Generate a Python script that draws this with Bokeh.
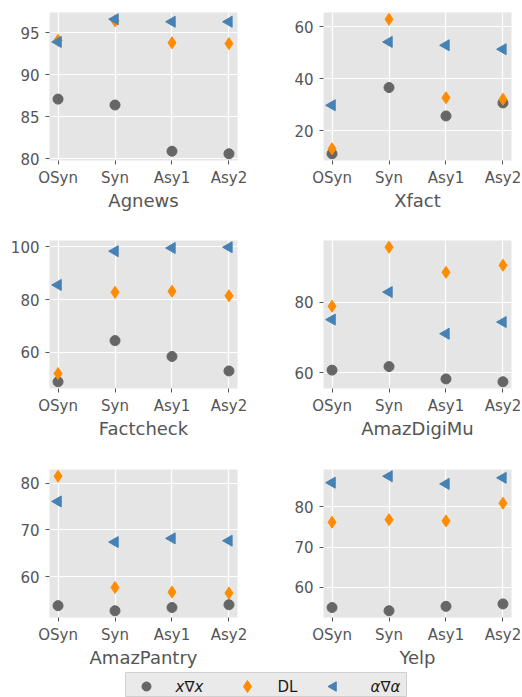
import math
from bokeh.plotting import figure
from bokeh.layouts import column, row
from bokeh.models import Range1d, FixedTicker, Label
from bokeh.embed import file_html
from bokeh.resources import INLINE

# ---------------- data ----------------
categories = ["OSyn", "Syn", "Asy1", "Asy2"]
datasets = ["Agnews", "Xfact", "Factcheck", "AmazDigiMu", "AmazPantry", "Yelp"]
series_labels = ["x\u2207x", "DL", "\u03b1\u2207\u03b1"]

xgx = {
    "Agnews":     [87.1, 86.4, 80.9, 80.6],
    "Xfact":      [11.2, 36.6, 25.7, 30.7],
    "Factcheck":  [48.9, 64.5, 58.5, 53.0],
    "AmazDigiMu": [60.8, 61.8, 58.3, 57.5],
    "AmazPantry": [53.8, 52.7, 53.4, 54.0],
    "Yelp":       [55.0, 54.2, 55.3, 55.9],
}
dl = {
    "Agnews":     [94.1, 96.4, 93.8, 93.7],
    "Xfact":      [13.1, 62.8, 32.7, 32.1],
    "Factcheck":  [52.0, 82.8, 83.2, 81.5],
    "AmazDigiMu": [78.9, 95.6, 88.5, 90.5],
    "AmazPantry": [81.5, 57.7, 56.7, 56.5],
    "Yelp":       [76.2, 76.8, 76.5, 80.9],
}
aga = {
    "Agnews":     [93.9, 96.6, 96.3, 96.3],
    "Xfact":      [29.8, 54.1, 52.8, 51.3],
    "Factcheck":  [85.6, 98.4, 99.6, 99.9],
    "AmazDigiMu": [75.1, 82.9, 71.1, 74.4],
    "AmazPantry": [76.1, 67.4, 68.2, 67.7],
    "Yelp":       [86.0, 87.6, 85.7, 87.2],
}
yticks = {
    "Agnews":     [80, 85, 90, 95],
    "Xfact":      [20, 40, 60],
    "Factcheck":  [60, 80, 100],
    "AmazDigiMu": [60, 80],
    "AmazPantry": [60, 70, 80],
    "Yelp":       [60, 70, 80],
}

# ---------------- style ----------------
FONT = "DejaVu Sans"
BG = "#E5E5E5"
TXT = "#555555"
C_CIRC = "#666666"
C_DIAM = "#FF8C00"
C_TRI = "#4682B4"

col_w = [280, 242]
col_mb = [(49, 43), (43, 11)]
row_h = [228, 229, 215]
TOP = 12
FRAME_H = 148


def make_panel(name, ci, ri):
    xs = list(range(len(categories)))
    allv = xgx[name] + dl[name] + aga[name]
    lo, hi = min(allv), max(allv)
    pad = 0.05 * (hi - lo)
    n = len(categories)
    p = figure(width=col_w[ci], height=row_h[ri], output_backend="svg",
               toolbar_location=None,
               x_range=Range1d(-0.05 * (n - 1), (n - 1) * 1.05),
               y_range=Range1d(lo - pad, hi + pad))
    p.min_border_left, p.min_border_right = col_mb[ci]
    p.min_border_top = TOP
    p.min_border_bottom = row_h[ri] - TOP - FRAME_H
    p.background_fill_color = BG
    p.border_fill_color = "white"
    p.outline_line_color = None

    p.xaxis.ticker = FixedTicker(ticks=xs)
    p.xaxis.major_label_overrides = {i: c for i, c in enumerate(categories)}
    p.yaxis.ticker = FixedTicker(ticks=yticks[name])
    for ax in (p.xaxis[0], p.yaxis[0]):
        ax.axis_line_color = None
        ax.major_tick_line_color = TXT
        ax.major_tick_in = 0
        ax.major_tick_out = 4
        ax.minor_tick_line_color = None
        ax.major_label_text_font = FONT
        ax.major_label_text_font_size = "15px"
        ax.major_label_text_color = TXT
    p.xaxis.major_label_standoff = 4
    p.yaxis.major_label_standoff = 6
    p.xaxis.axis_label = name
    p.xaxis.axis_label_text_font = FONT
    p.xaxis.axis_label_text_font_size = "18px"
    p.xaxis.axis_label_text_font_style = "normal"
    p.xaxis.axis_label_text_color = TXT
    p.xaxis.axis_label_standoff = 0

    p.grid.grid_line_color = "white"
    p.grid.grid_line_width = 1.2

    p.scatter(xs, xgx[name], marker="circle", size=10,
              fill_color=C_CIRC, line_color=C_CIRC)
    p.scatter(xs, dl[name], marker="diamond", size=12,
              fill_color=C_DIAM, line_color=C_DIAM)
    p.scatter(xs, aga[name], marker="triangle", size=11, angle=math.pi / 2,
              fill_color=C_TRI, line_color=C_TRI)
    return p


panels = [make_panel(name, i % 2, i // 2) for i, name in enumerate(datasets)]

# ---------------- legend strip (pixel-unit ranges) ----------------
LEG_H = 697 - sum(row_h)
LEG_W = 281
leg = figure(width=522, height=LEG_H, output_backend="svg", toolbar_location=None,
             x_axis_type=None, y_axis_type=None,
             x_range=Range1d(0, LEG_W), y_range=Range1d(0, LEG_H))
leg.min_border_left = 125
leg.min_border_right = 522 - 125 - LEG_W
leg.min_border_top = 0
leg.min_border_bottom = 0
leg.background_fill_color = "#EAEAEA"
leg.border_fill_color = "white"
leg.outline_line_color = "#D0D0D0"
leg.grid.visible = False

# legend entry layout: (marker, size, angle, color, symbol x, text x, font style)
leg_entries = [
    ("circle", 9, 0.0, C_CIRC, 21, 50, "italic"),
    ("diamond", 12, 0.0, C_DIAM, 122, 152, "normal"),
    ("triangle", 9.5, math.pi / 2, C_TRI, 208, 245, "italic"),
]
LEG_Y = 11
for (mk, sz, ang, colr, sx, tx, style), lab in zip(leg_entries, series_labels):
    leg.scatter([sx], [LEG_Y], marker=mk, size=sz, angle=ang,
                fill_color=colr, line_color=colr)
    leg.add_layout(Label(x=tx, y=LEG_Y, text=lab, text_font=FONT,
                         text_font_size="15px", text_font_style=style,
                         text_color="#1a1a1a", text_baseline="middle",
                         text_align="left"))

layout = column(row(panels[0], panels[1]),
                row(panels[2], panels[3]),
                row(panels[4], panels[5]),
                leg)

open("out.html", "w").write(file_html(layout, INLINE))
